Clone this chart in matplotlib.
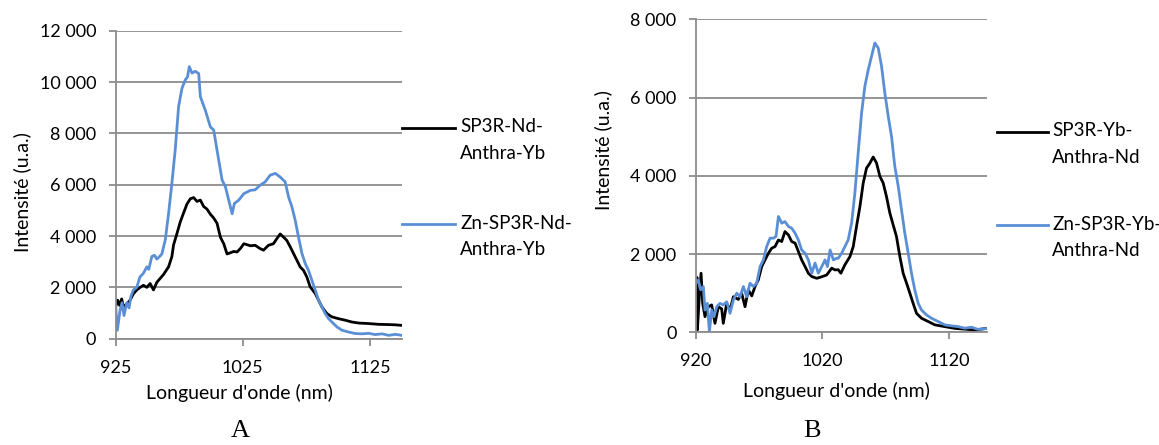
import matplotlib
matplotlib.use("Agg")
import matplotlib.pyplot as plt
from matplotlib.lines import Line2D
from matplotlib.ticker import FuncFormatter

# Panel A : SP3R-Nd-Anthra-Yb
a_black_nm = [925, 926.5, 928, 929.7, 931.1, 933.7, 936.3, 938.9, 941.6, 944.2, 946.8, 949.5,
              952.1, 954.7, 957.4, 960, 962.6, 966.6, 969.2, 970.5, 973.2, 975.8, 978.4, 981.1,
              983.7, 986.3, 988.9, 991.6, 994.2, 996.8, 999.5, 1002.1, 1004.7, 1007.4, 1010,
              1012.6, 1015.3, 1017.9, 1020.5, 1023.2, 1025.8, 1031.1, 1034.7, 1038.6, 1041.3,
              1045.2, 1049.1, 1051.8, 1054.4, 1057, 1059.6, 1062.3, 1064.9, 1067.5, 1070.1,
              1072.8, 1075.4, 1078, 1082, 1084.6, 1087.2, 1091.1, 1095.1, 1100.3, 1105.6,
              1110.8, 1116.1, 1124, 1131.8, 1139.7, 1145, 1150]
a_black = [1250, 1500, 1300, 1550, 1250, 1350, 1500, 1750, 1900, 2000, 2080, 2000,
           2150, 1900, 2200, 2350, 2500, 2800, 3200, 3650, 4100, 4550, 4900, 5250,
           5450, 5500, 5350, 5400, 5150, 5050, 4850, 4700, 4500, 3950, 3700,
           3300, 3350, 3400, 3380, 3520, 3700, 3620, 3640, 3510, 3450,
           3640, 3700, 3900, 4080, 3960, 3830, 3580, 3320, 3060, 2800,
           2660, 2400, 2020, 1760, 1500, 1240, 980, 850, 780, 720,
           650, 610, 590, 560, 550, 540, 520]

a_blue_nm = [925, 926.3, 928.4, 930, 931.5, 933.7, 935.5, 937, 938.9, 941.6, 944, 946.8,
             949.5, 951, 953.4, 955.5, 957.4, 959.5, 961.3, 964, 966.6, 969.2, 971.8, 974.5,
             977.1, 979.7, 981.5, 982.9, 985, 987.6, 990.3, 991.6, 995.5, 999.5, 1002.1,
             1004.7, 1008.7, 1011.3, 1013.9, 1016.6, 1018.4, 1021.8, 1025.8, 1031, 1034.7,
             1038.6, 1042.6, 1046.5, 1050.5, 1054.4, 1058.3, 1061, 1063.6, 1066.2, 1068.8,
             1071.5, 1074.1, 1076.7, 1079.3, 1082, 1084.6, 1087.2, 1089.8, 1092.5, 1095.1,
             1099, 1103, 1108.2, 1113.5, 1118.7, 1124, 1129.2, 1134.5, 1139.7, 1145, 1150]
a_blue = [1250, 330, 1100, 1400, 900, 1400, 1200, 1650, 1900, 2000, 2400, 2550,
          2800, 2700, 3200, 3250, 3100, 3200, 3300, 3850, 4880, 6050, 7350, 9050,
          9750, 10080, 10200, 10600, 10350, 10420, 10330, 9430, 8900, 8250, 8130,
          7350, 6180, 5920, 5400, 4870, 5270, 5400, 5650, 5780, 5800,
          5980, 6110, 6370, 6440, 6300, 6110, 5520, 5140, 4620, 3960,
          3320, 2930, 2660, 2280, 1890, 1500, 1240, 980, 780, 650,
          460, 330, 260, 200, 190, 210, 160, 190, 130, 170, 130]

# Panel B : SP3R-Yb-Anthra-Nd
b_black_nm = [920, 920.8, 921.1, 922.6, 924, 925.3, 927.1, 929.8, 932.4, 935, 937.7, 940.3,
              941.6, 944.3, 946.9, 949.6, 953.5, 956.1, 958.8, 961.4, 964.1, 966.7, 969.3,
              972, 974.6, 977.3, 979.9, 982.5, 985.2, 987.8, 990.4, 993.1, 995.7, 998.4,
              1001, 1003.6, 1006.3, 1008.9, 1011.6, 1015.5, 1019.5, 1023.4, 1027.4, 1029.9,
              1032.5, 1034.6, 1037.8, 1041.8, 1044.4, 1047, 1049.7, 1052.3, 1054.9, 1057.6,
              1060.2, 1062.8, 1065.5, 1068.1, 1070.7, 1073.4, 1076, 1078.6, 1081.3, 1083.9,
              1086.6, 1089.2, 1091.8, 1094.5, 1098.4, 1103.7, 1109, 1116.9, 1124.8, 1132.7,
              1140.6, 1150]
b_black = [1170, 1400, 60, 900, 1510, 740, 400, 655, 700, 230, 655, 600,
           230, 740, 570, 910, 840, 1000, 655, 1085, 930, 1170, 1340,
           1680, 1850, 2020, 2150, 2190, 2360, 2320, 2575, 2490, 2320, 2280,
           2065, 1850, 1680, 1510, 1425, 1380, 1420, 1465, 1640, 1595,
           1600, 1510, 1725, 1935, 2190, 2705, 3215, 3815, 4195, 4325,
           4480, 4330, 3985, 3815, 3470, 3045, 2745, 2450, 1935, 1510,
           1255, 1000, 740, 485, 360, 275, 190, 145, 100, 80,
           60, 100]

b_blue_nm = [920, 921.8, 923.7, 925.8, 927.1, 929, 930.6, 932.4, 934.2, 936.4, 939, 941.6,
             944.3, 946.9, 949.6, 952.2, 954.8, 957.5, 960.1, 962.7, 965.4, 968, 970.7,
             973.3, 975.9, 978.6, 981.2, 983.3, 985.2, 987.8, 990.4, 993.1, 995.7, 998.4,
             1001, 1003.6, 1006.3, 1008.9, 1011.6, 1014.2, 1016.8, 1019.5, 1022.1, 1024,
             1026.1, 1028.7, 1031.3, 1032.5, 1035.2, 1037.8, 1040.4, 1043.1, 1045.7, 1048.3,
             1051, 1053.6, 1056.3, 1058.9, 1061.5, 1064.2, 1066.8, 1069.4, 1072.1, 1074.7,
             1077.3, 1080, 1082.6, 1085.2, 1087.9, 1090.5, 1093.1, 1095.8, 1098.4, 1102.4,
             1106.3, 1111.6, 1116.9, 1122.1, 1127.4, 1132.7, 1137.9, 1143.2, 1150]
b_blue = [1255, 1340, 1085, 1170, 570, 740, 15, 570, 400, 655, 740, 700,
          780, 485, 825, 1000, 910, 1170, 910, 1255, 1170, 1255, 1680,
          1850, 2190, 2405, 2405, 2450, 2960, 2790, 2830, 2705, 2660, 2535,
          2360, 2105, 2020, 1850, 1510, 1770, 1510, 1680, 1850, 1680,
          2105, 1850, 1895, 1890, 2020, 2190, 2360, 2790, 3555, 4580,
          5605, 6285, 6715, 7055, 7395, 7265, 6800, 6115, 5520, 5005,
          4240, 3730, 3130, 2535, 2020, 1510, 1085, 740, 570, 445,
          360, 275, 190, 165, 145, 105, 130, 75, 95]

a_labels = ["SP3R-Nd-\nAnthra-Yb", "Zn-SP3R-Nd-\nAnthra-Yb"]
b_labels = ["SP3R-Yb-\nAnthra-Nd", "Zn-SP3R-Yb-\nAnthra-Nd"]

BLUE = "#5A8FD6"
GRID = "#8C8C8C"
FONT = "Lato"
FS = 13        # tick labels
FS_LAB = 14    # axis titles
FS_LEG = 13.5  # legend
W, H = 1159, 445

plt.rcParams["font.family"] = FONT


def fx(px):
    return px / W


def fy(py):
    return 1 - py / H


def style_axes(ax, xlim, xticks, ylim, yticks):
    ax.set_xlim(*xlim)
    ax.set_ylim(*ylim)
    ax.set_xticks(xticks)
    ax.set_yticks(yticks)
    ax.yaxis.set_major_formatter(FuncFormatter(lambda v, p: f"{int(v):,}".replace(",", " ")))
    ax.grid(axis="y", color=GRID, lw=1.3)
    ax.set_axisbelow(True)
    for s in ["top", "right"]:
        ax.spines[s].set_visible(False)
    for s in ["left", "bottom"]:
        ax.spines[s].set_color(GRID)
        ax.spines[s].set_linewidth(1.3)
    ax.tick_params(axis="both", colors=GRID, labelcolor="black", labelsize=FS,
                   length=5, width=1.3, direction="out")
    ax.tick_params(axis="y", pad=9)
    ax.tick_params(axis="x", pad=10)


def draw_legend(labels, x_line, x_text, ys):
    for lab, color, y in zip(labels, ["black", BLUE], ys):
        fig.add_artist(Line2D([fx(x_line[0]), fx(x_line[1])], [fy(y), fy(y)],
                              color=color, lw=2))
        first, second = lab.split("\n")
        fig.text(fx(x_text), fy(y - 1), first, fontsize=FS_LEG, va="center", ha="left")
        fig.text(fx(x_text), fy(y + 25.5), second, fontsize=FS_LEG, va="center", ha="left")


fig = plt.figure(figsize=(W / 100, H / 100), dpi=100)

axA = fig.add_axes([fx(115.7), fy(338.7), fx(401.7 - 115.7), (338.7 - 30.7) / H])
axA.plot(a_black_nm, a_black, color="black", lw=2)
axA.plot(a_blue_nm, a_blue, color=BLUE, lw=2)
style_axes(axA, (925, 1150), [925, 1025, 1125], (0, 12000), range(0, 12001, 2000))

axB = fig.add_axes([fx(696), fy(332.3), fx(986.7 - 696), (332.3 - 19.3) / H])
axB.plot(b_black_nm, b_black, color="black", lw=2)
axB.plot(b_blue_nm, b_blue, color=BLUE, lw=2)
style_axes(axB, (920, 1150), [920, 1020, 1120], (0, 8000), range(0, 8001, 2000))

# axis titles
fig.text(fx(239), fy(393), "Longueur d'onde (nm)", fontsize=FS_LAB, ha="center", va="center")
fig.text(fx(836), fy(391), "Longueur d'onde (nm)", fontsize=FS_LAB, ha="center", va="center")
fig.text(fx(22), fy(192), "Intensité (u.a.)", fontsize=FS_LAB, ha="center", va="center", rotation=90)
fig.text(fx(603), fy(150), "Intensité (u.a.)", fontsize=FS_LAB, ha="center", va="center", rotation=90)

draw_legend(a_labels, (402, 455), 460, [128, 224])
draw_legend(b_labels, (997, 1048), 1052, [132, 225])

# panel letters
fig.text(fx(240), fy(431), "A", fontsize=19, family="Liberation Serif", ha="center", va="center")
fig.text(fx(812), fy(431), "B", fontsize=19, family="Liberation Serif", ha="center", va="center")

fig.savefig("out.png", dpi=100)
